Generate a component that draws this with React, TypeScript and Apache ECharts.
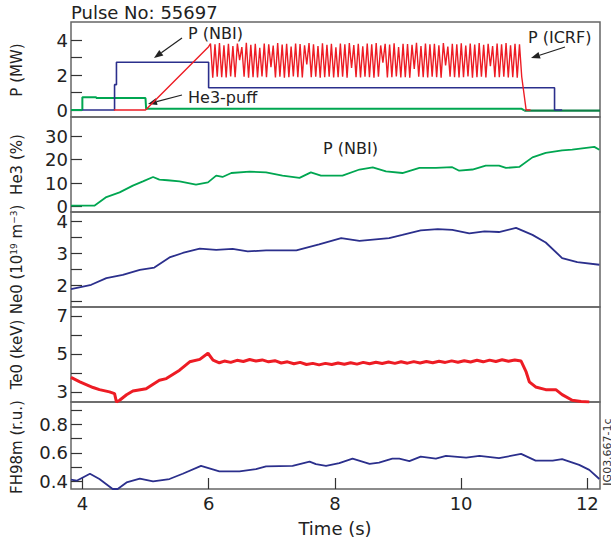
import { useEffect, useRef } from "react";
import * as echarts from "echarts";

// ---------- data ----------
const T_RANGE = [3.82, 12.2];
const TIME_TICKS = [4, 6, 8, 10, 12];

const NBI_POWER = [[4.0, 0], [4.51, 0], [4.51, 1.45], [4.54, 1.45], [4.54, 2.73], [6.0, 2.73], [6.0, 1.27], [11.48, 1.27], [11.48, 0], [11.6, 0]];
const HE3_PUFF = [[3.82, 0], [4.0, 0], [4.0, 0.73], [4.22, 0.73], [4.22, 0.68], [5.0, 0.68], [5.01, 0.07], [10.96, 0.07], [11.0, -0.02]];
const HE3_PUFF_TAIL = [[11.0, -0.03], [12.2, -0.03]];
const ICRF_RAMP = [[4.5, 0], [5.0, 0], [6.0, 3.62]];
const ICRF_OSC_START = 6.03;
const ICRF_OSC_END = 10.96;
const ICRF_OSC = [
  3.80, 1.85, 3.75, 1.90, 3.82, 1.88, 3.70, 1.86, 3.78, 1.92, 3.65, 1.87, 3.80, 2.85, 3.60, 1.90, 3.84, 1.85, 3.72, 1.88,
  3.78, 1.86, 3.55, 1.92, 3.80, 1.88, 3.76, 2.45, 3.68, 1.86, 3.82, 1.90, 3.74, 1.85, 3.79, 1.88, 3.62, 1.92, 3.80, 1.87,
  3.77, 1.86, 3.70, 2.60, 3.83, 1.88, 3.75, 1.90, 3.66, 1.85, 3.81, 1.87, 3.73, 1.91, 3.78, 1.86, 3.58, 1.88, 3.80, 1.90,
  3.76, 1.85, 3.82, 2.40, 3.71, 1.88, 3.79, 1.86, 3.64, 1.91, 3.80, 1.87, 3.75, 1.85, 3.83, 1.90, 3.69, 2.70, 3.78, 1.86,
  3.74, 1.88, 3.81, 1.92, 3.60, 1.86, 3.79, 1.88, 3.77, 1.85, 3.72, 2.35, 3.84, 1.90, 3.66, 1.87, 3.80, 1.86, 3.75, 1.91,
  3.78, 1.88, 3.70, 1.85, 3.82, 2.55, 3.63, 1.90, 3.79, 1.87, 3.76, 1.86, 3.81, 1.88, 3.68, 1.92, 3.80, 1.85, 3.74, 1.88,
  3.83, 1.90, 3.72, 1.86, 3.78, 2.50, 3.65, 1.88, 3.80, 1.87, 3.76, 1.90, 3.82, 1.86, 3.70, 1.88, 3.79, 1.85, 3.75, 1.90,
];
const ICRF_TAIL = [[11.03, 0], [11.1, 0]];

const HE3_CONC = [[3.82, 0.3], [4.19, 0.3], [4.38, 4.0], [4.59, 6.0], [4.80, 8.9], [4.96, 10.7], [5.12, 12.6], [5.22, 11.5], [5.35, 11.2], [5.54, 10.7], [5.80, 9.3], [5.99, 10.3], [6.12, 13.2], [6.22, 12.6], [6.36, 14.3], [6.65, 14.9], [6.91, 14.6], [7.17, 13.2], [7.44, 12.2], [7.62, 14.6], [7.78, 13.2], [8.12, 13.2], [8.39, 15.8], [8.60, 16.7], [8.81, 15.0], [9.07, 14.3], [9.34, 16.5], [9.60, 16.5], [9.86, 16.8], [9.97, 15.3], [10.18, 15.8], [10.39, 17.5], [10.60, 17.5], [10.71, 16.5], [10.92, 16.9], [11.13, 21.0], [11.34, 22.9], [11.60, 24.0], [11.76, 24.3], [12.11, 25.5], [12.19, 24.3]];

const NE0 = [[3.82, 1.87], [4.14, 2.01], [4.38, 2.22], [4.64, 2.32], [4.91, 2.48], [5.14, 2.55], [5.38, 2.87], [5.59, 3.01], [5.86, 3.15], [6.12, 3.11], [6.38, 3.14], [6.62, 3.06], [6.91, 3.09], [7.39, 3.09], [7.75, 3.28], [8.10, 3.48], [8.39, 3.39], [8.86, 3.48], [9.07, 3.58], [9.36, 3.72], [9.63, 3.76], [9.86, 3.74], [10.13, 3.63], [10.37, 3.69], [10.60, 3.67], [10.87, 3.80], [11.13, 3.58], [11.34, 3.34], [11.60, 2.85], [11.84, 2.72], [12.19, 2.64]];

const TE0 = [[3.82, 3.76], [3.96, 3.53], [4.17, 3.23], [4.27, 3.12], [4.43, 3.00], [4.51, 2.91], [4.54, 2.47], [4.59, 2.56], [4.70, 2.85], [4.80, 3.05], [5.01, 3.17], [5.22, 3.61], [5.33, 3.70], [5.54, 4.14], [5.70, 4.58], [5.86, 4.71], [5.99, 5.03], [6.07, 4.67], [6.17, 4.53],
  [6.25, 4.62], [6.35, 4.55], [6.45, 4.66], [6.55, 4.60], [6.65, 4.70], [6.75, 4.62], [6.85, 4.68], [6.95, 4.58], [7.05, 4.64], [7.15, 4.52], [7.25, 4.58], [7.35, 4.48], [7.45, 4.55], [7.55, 4.44], [7.65, 4.50], [7.75, 4.42], [7.85, 4.50], [7.95, 4.44], [8.05, 4.52], [8.15, 4.45], [8.25, 4.53], [8.35, 4.46], [8.45, 4.55], [8.55, 4.48], [8.65, 4.56], [8.75, 4.49], [8.85, 4.57], [8.95, 4.50], [9.05, 4.58], [9.15, 4.51], [9.25, 4.59], [9.35, 4.52], [9.45, 4.60], [9.55, 4.53], [9.65, 4.61], [9.75, 4.55], [9.85, 4.63], [9.95, 4.56], [10.05, 4.64], [10.15, 4.57], [10.25, 4.66], [10.35, 4.58], [10.45, 4.67], [10.55, 4.60], [10.65, 4.69], [10.75, 4.61], [10.85, 4.68], [10.95, 4.62],
  [11.03, 4.05], [11.08, 3.53], [11.18, 3.26], [11.34, 3.12], [11.50, 3.12], [11.60, 2.86], [11.76, 2.56], [11.90, 2.50], [12.03, 2.47]];

const FH98M = [[3.82, 0.412], [3.91, 0.405], [4.12, 0.454], [4.27, 0.417], [4.48, 0.347], [4.56, 0.347], [4.70, 0.393], [4.91, 0.419], [5.12, 0.40], [5.38, 0.417], [5.59, 0.454], [5.88, 0.509], [6.17, 0.47], [6.49, 0.47], [6.75, 0.486], [6.91, 0.505], [7.33, 0.509], [7.60, 0.539], [7.70, 0.521], [7.86, 0.509], [8.07, 0.528], [8.28, 0.56], [8.55, 0.523], [8.70, 0.532], [8.91, 0.56], [9.02, 0.56], [9.18, 0.542], [9.36, 0.574], [9.60, 0.56], [9.76, 0.579], [10.08, 0.567], [10.29, 0.579], [10.60, 0.563], [10.95, 0.593], [11.18, 0.546], [11.45, 0.546], [11.60, 0.556], [11.87, 0.516], [12.03, 0.481], [12.19, 0.417]];

const PANEL_RANGES = [[-0.4, 5.03], [-2.4, 38.3], [1.31, 4.3], [2.47, 7.46], [0.347, 0.957]];
const PANEL_LABELS = [[0, 2, 4], [0, 10, 20, 30], [2, 3, 4], [3, 5, 7], [0.4, 0.6, 0.8]];
const PANEL_TICKS = [[0, 1, 2, 3, 4], [0, 10, 20, 30], [1.5, 2, 2.5, 3, 3.5, 4], [3, 4, 5, 6, 7], [0.4, 0.5, 0.6, 0.7, 0.8, 0.9]];

const NAVY = "#2b2f8c";
const RED = "#ed1c24";
const GREEN = "#00a651";
const FONT = "DejaVu Sans, Liberation Sans, sans-serif";

function arrow(x1: number, y1: number, x2: number, y2: number) {
  const a = Math.atan2(y2 - y1, x2 - x1);
  const L = 9, W = 3.5;
  const bx = x2 - L * Math.cos(a), by = y2 - L * Math.sin(a);
  const px = -Math.sin(a) * W, py = Math.cos(a) * W;
  return [
    { type: "line", shape: { x1, y1, x2: bx, y2: by }, style: { stroke: "#222", lineWidth: 1.2 } },
    { type: "polygon", shape: { points: [[x2, y2], [bx + px, by + py], [bx - px, by - py]] }, style: { fill: "#222" } },
  ];
}

export default function App() {
  const ref = useRef<HTMLDivElement>(null);
  useEffect(() => {
    if (!ref.current) return;
    const chart = echarts.init(ref.current, null, { renderer: "svg" });
    const grids = [
      { top: 22, height: 95 },
      { top: 117, height: 95 },
      { top: 212, height: 95 },
      { top: 307, height: 95 },
      { top: 402, height: 87 },
    ].map((g) => ({ ...g, left: 71, right: 11, show: true, borderColor: "#666", borderWidth: 1.5, backgroundColor: "transparent" }));

    const xAxes = grids.map((_, i) => ({
      type: "value",
      gridIndex: i,
      min: T_RANGE[0],
      max: T_RANGE[1],
      axisLine: { show: false },
      splitLine: { show: false },
      axisTick: i === 4 ? { show: true, inside: true, length: 11, customValues: TIME_TICKS, lineStyle: { color: "#333", width: 1.2 } } : { show: false },
      axisLabel: i === 4 ? { show: true, customValues: TIME_TICKS, fontSize: 18, color: "#222", fontFamily: FONT, margin: 5 } : { show: false },
    }));

    const yAxes = grids.map((_, i) => ({
      type: "value",
      gridIndex: i,
      min: PANEL_RANGES[i][0],
      max: PANEL_RANGES[i][1],
      axisLine: { show: false },
      splitLine: { show: false },
      axisTick: { show: true, inside: true, length: 11, customValues: PANEL_TICKS[i], lineStyle: { color: "#333", width: 1.2 } },
      axisLabel: { show: true, customValues: PANEL_LABELS[i], fontSize: 18, color: "#222", fontFamily: FONT, margin: 3 },
    }));

    const n = ICRF_OSC.length;
    const dt = (ICRF_OSC_END - ICRF_OSC_START) / (n - 1);
    const icrf = [...ICRF_RAMP, ...ICRF_OSC.map((v, k) => [ICRF_OSC_START + k * dt, v]), ...ICRF_TAIL];

    const line = (data: number[][], idx: number, color: string, width = 1.8) => ({
      type: "line",
      xAxisIndex: idx,
      yAxisIndex: idx,
      data,
      symbol: "none",
      showSymbol: false,
      lineStyle: { color, width },
      z: 3,
    });

    const nameText = (text: string, y: number, rich?: any) => ({
      type: "text",
      x: 17,
      y,
      rotation: Math.PI / 2,
      style: { text, fontSize: 15, fontFamily: FONT, fill: "#222", align: "center", verticalAlign: "middle", rich },
    });
    const label = (text: string, x: number, y: number) => ({
      type: "text", x, y,
      style: { text, fontSize: 16, fontFamily: FONT, fill: "#222", align: "left", verticalAlign: "middle" },
    });

    chart.setOption({
      animation: false,
      grid: grids,
      xAxis: xAxes,
      yAxis: yAxes,
      series: [
        line(HE3_PUFF, 0, GREEN, 2),
        line(HE3_PUFF_TAIL, 0, "#0d7f45", 2.2),
        line(NBI_POWER, 0, NAVY, 1.6),
        line(icrf, 0, RED, 1.4),
        line(HE3_CONC, 1, GREEN, 1.8),
        line(NE0, 2, NAVY, 1.8),
        line(TE0, 3, RED, 3),
        line(FH98M, 4, NAVY, 1.8),
      ],
      graphic: [
        { type: "text", x: 71, y: 12, style: { text: "Pulse No: 55697", fontSize: 18, fontFamily: FONT, fill: "#222", align: "left", verticalAlign: "middle" } },
        nameText("P (MW)", 70),
        nameText("He3 (%)", 164.5),
        nameText("Ne0 (10{sup|19} m{sup|\u22123})", 259.5, { sup: { fontSize: 9, fontFamily: FONT, fill: "#222", verticalAlign: "top" } }),
        nameText("Te0 (keV)", 354.5),
        nameText("FH98m (r.u.)", 447),
        { type: "text", x: 335, y: 528, style: { text: "Time (s)", fontSize: 18, fontFamily: FONT, fill: "#222", align: "center", verticalAlign: "middle" } },
        label("P (NBI)", 188, 33),
        label("He3-puff", 188, 97),
        label("P (ICRF)", 528, 37),
        label("P (NBI)", 323, 148),
        ...arrow(182, 38, 154, 58),
        ...arrow(182, 95, 148, 104),
        ...arrow(565, 47, 531, 58),
        { type: "text", x: 607, y: 452, rotation: Math.PI / 2, style: { text: "JG03.667-1c", fontSize: 11, fontFamily: FONT, fill: "#333", align: "center", verticalAlign: "middle" } },
      ],
    });
    return () => chart.dispose();
  }, []);
  return <div ref={ref} style={{ position: "absolute", left: 0, top: 0, width: 611, height: 546 }} />;
}
